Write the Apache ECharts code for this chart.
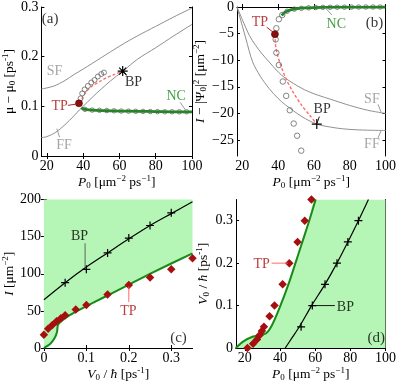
<!DOCTYPE html>
<html>
<head>
<meta charset="utf-8">
<script src="https://cdn.jsdelivr.net/npm/echarts@6/dist/echarts.min.js"></script>
<style>
html, body { margin: 0; padding: 0; background: #fff; }
#chart { width: 399px; height: 386px; }
</style>
</head>
<body>
<div id="chart"></div>
<script>
// ---- panel (a): mu - mu0 vs P0 ----
const aSF_P = [17, 20, 24, 27, 30, 35, 40, 50, 60, 65.6, 70, 80, 90, 100];
const aSF_y = [0.135, 0.137, 0.141, 0.146, 0.152, 0.164, 0.175, 0.198, 0.221, 0.233, 0.242, 0.261, 0.28, 0.298];
const aFF_P = [17, 20, 25, 30, 35, 38, 40, 45, 50, 55, 62, 70, 80, 90, 100];
const aFF_y = [0.037, 0.039, 0.048, 0.063, 0.081, 0.093, 0.1, 0.118, 0.135, 0.151, 0.171, 0.195, 0.218, 0.242, 0.265];
const aNC_P = [39, 40, 42, 45, 50, 55, 60, 70, 80, 90, 100];
const aNC_y = [0.097, 0.095, 0.0935, 0.0925, 0.0915, 0.091, 0.0905, 0.09, 0.0895, 0.089, 0.089];
const aNCc_P = [41, 45, 49, 53, 57, 61, 65, 69, 73, 77, 81, 85, 89, 93, 97];
const aNCc_y = [0.094, 0.0925, 0.092, 0.0915, 0.091, 0.0905, 0.0903, 0.09, 0.0898, 0.0895, 0.0893, 0.089, 0.089, 0.089, 0.089];
const aUp_P = [38.6, 39.5, 40.8, 42.6, 44.5, 46.3, 48.1, 50, 51.5];
const aUp_y = [0.116, 0.126, 0.134, 0.141, 0.148, 0.153, 0.16, 0.165, 0.168];
const aDash_P = [37.7, 39, 41.7, 45, 49.1, 52.5, 56.4, 61.8];
const aDash_y = [0.106, 0.113, 0.129, 0.141, 0.15, 0.157, 0.163, 0.171];
const aTP = [37.7, 0.106];
const aBP = [61.8, 0.171];

// ---- panel (b): I - |psi0|^2 vs P0 ----
const bSF_P = [17, 20, 24, 27.6, 31, 34.9, 40, 44.1, 53.3, 60, 71.7, 80, 90, 100];
const bSF_y = [0, -2.4, -5.4, -7.3, -8.8, -10.3, -12.2, -13.4, -15.3, -16.3, -17.6, -18.5, -19.4, -20];
const bFF_P = [17, 20, 22, 25.7, 30, 34.9, 40, 44.1, 53.3, 61.6, 71.7, 80, 90, 100];
const bFF_y = [0, -3.6, -6, -10.3, -13, -15.3, -17.2, -18.4, -20.6, -22, -22.7, -23, -23.15, -23.2];
const bNC_P = [42, 43, 44, 46, 48, 50, 55, 60, 70, 80, 100];
const bNC_y = [-1.6, -1.2, -0.95, -0.65, -0.45, -0.33, -0.18, -0.1, -0.04, -0.02, 0];
const bCirc_P = [42.3, 40.4, 39.0, 38.6, 39.0, 40.4, 42.6, 44.5, 46.5, 48.7, 50.6, 52.9];
const bCirc_y = [-1.5, -2.3, -4.0, -6.1, -8.6, -10.9, -14.0, -16.7, -19.4, -21.9, -24.2, -27.0];
const bNCc_P = [45, 49, 53, 57, 61, 65, 69, 73, 77, 81, 85, 89, 93, 97];
const bNCc_y = [-0.8, -0.4, -0.25, -0.15, -0.1, -0.07, -0.05, -0.04, -0.03, -0.02, -0.01, 0, 0, 0];
const bDash_P = [38.2, 38.5, 39.3, 41, 44, 48, 53, 57.5, 61.6];
const bDash_y = [-5.1, -7, -8.6, -10.5, -13.2, -15.8, -18.4, -20.3, -22];
const bTP = [38.2, -5.1];
const bBP = [61.6, -22];

// ---- panel (c): I vs V0/hbar ----
const cGreen_V = [0, 0.014, 0.025, 0.031, 0.033, 0.041, 0.06, 0.098, 0.137, 0.199, 0.252, 0.35];
const cGreen_I = [0, 5, 13, 22, 31, 36, 44, 55.7, 67, 85, 100.6, 127.5];
const cBP_V = [0, 0.05, 0.1, 0.15, 0.2, 0.25, 0.3, 0.35];
const cBP_I = [65, 88, 109, 128, 147, 165, 181, 197];
const cBPm_V = [0.05, 0.1, 0.15, 0.2, 0.25, 0.3];
const cBPm_I = [88, 106, 128, 148, 165, 182];
const cTP_V = [0, 0.01, 0.02, 0.03, 0.04, 0.05, 0.075, 0.1, 0.15, 0.2, 0.25, 0.3, 0.35];
const cTP_I = [18, 26, 31, 36, 40, 44, 52, 58, 72, 85, 95, 106, 121];

// ---- panel (d): V0/hbar vs P0 ----
const dGreen_P = [14.8, 19, 24.7, 29.4, 32.2, 35, 39.7, 45.3, 50.9, 56.5, 60.3];
const dGreen_V = [0, 0.015, 0.027, 0.031, 0.035, 0.05, 0.094, 0.156, 0.227, 0.298, 0.35];
const dBP_P = [43, 47, 51, 58, 65.6, 72.4, 78.6, 84.6, 90.3];
const dBP_V = [0, 0.025, 0.05, 0.1, 0.15, 0.2, 0.25, 0.3, 0.35];
const dBPm_P = [52, 58.4, 65.6, 72.4, 78.6, 84.6];
const dBPm_V = [0.05, 0.1, 0.15, 0.2, 0.25, 0.3];
const dTP_P = [21.5, 24.7, 26.9, 28.4, 29.7, 30.9, 34.1, 36.9, 41.5, 45.3, 50, 54.1, 57.9];
const dTP_V = [0, 0.01, 0.02, 0.03, 0.04, 0.05, 0.075, 0.1, 0.15, 0.2, 0.25, 0.3, 0.35];

// tick labels
const pTicks = [20, 40, 60, 80, 100];
const aYTicks = [0, 0.1, 0.2, 0.3];
const bYTicks = [-25, -20, -15, -10, -5, 0];
const cXTicks = [0, 0.1, 0.2, 0.3];
const cYTicks = [0, 50, 100, 150, 200];
const dYTicks = [0, 0.1, 0.2, 0.3];

const FONT = 'Liberation Serif';
const GRAY = '#8f8f8f';
const GREEN = '#178a17';
const DKRED = '#a50f0f';
const FILL = '#b5f5b5';

const zip = (xs, ys) => xs.map((x, i) => [x, ys[i]]);
const minus = v => (v < 0 ? '\u2212' + (-v) : String(v));

const rich = {
  i: { fontStyle: 'italic', fontSize: 13.5, fontFamily: FONT, lineHeight: 16 },
  n: { fontSize: 13.5, fontFamily: FONT, lineHeight: 16 },
  s: { fontSize: 9, fontFamily: FONT, verticalAlign: 'bottom', lineHeight: 16, padding: [4, 0, 0, 0] },
  u: { fontSize: 9, fontFamily: FONT, verticalAlign: 'top', lineHeight: 16, padding: [0, 0, 4, 0] }
};

function xPair(grid, min, max, ticks, name, fmt) {
  const base = {
    gridIndex: grid, type: 'value', min: min, max: max,
    axisLine: { lineStyle: { color: '#000', width: 1 } },
    splitLine: { show: false }
  };
  return [
    Object.assign({}, base, {
      position: 'bottom',
      axisTick: { inside: true, length: 3, customValues: ticks, lineStyle: { color: '#000' } },
      axisLabel: { customValues: ticks, formatter: fmt, color: '#000', fontFamily: FONT, fontSize: 14, margin: 3 },
      name: name, nameLocation: 'middle', nameGap: 18,
      nameTextStyle: { color: '#000', fontFamily: FONT, fontSize: 13.5, rich: rich }
    }),
    Object.assign({}, base, {
      position: 'top',
      axisTick: { inside: true, length: 3, customValues: ticks, lineStyle: { color: '#000' } },
      axisLabel: { show: false }
    })
  ];
}

function yPair(grid, min, max, ticks, name, gap, fmt) {
  const base = {
    gridIndex: grid, type: 'value', min: min, max: max,
    axisLine: { lineStyle: { color: '#000', width: 1 } },
    splitLine: { show: false }
  };
  return [
    Object.assign({}, base, {
      position: 'left',
      axisTick: { inside: true, length: 3, customValues: ticks, lineStyle: { color: '#000' } },
      axisLabel: { customValues: ticks, formatter: fmt, color: '#000', fontFamily: FONT, fontSize: 14, margin: 3 },
      name: name, nameLocation: 'middle', nameGap: gap, nameRotate: 90,
      nameTextStyle: { color: '#000', fontFamily: FONT, fontSize: 13.5, rich: rich }
    }),
    Object.assign({}, base, {
      position: 'right',
      axisTick: { inside: true, length: 3, customValues: ticks, lineStyle: { color: '#000' } },
      axisLabel: { show: false }
    })
  ];
}

function line(k, data, color, width, extra) {
  return Object.assign({
    type: 'line', xAxisIndex: 2 * k, yAxisIndex: 2 * k, data: data,
    showSymbol: false, symbol: 'none', smooth: 0.3, silent: true,
    lineStyle: { color: color, width: width }
  }, extra || {});
}

function dots(k, data, symbol, size, style, z) {
  return {
    type: 'scatter', xAxisIndex: 2 * k, yAxisIndex: 2 * k, data: data,
    symbol: symbol, symbolSize: size, itemStyle: Object.assign({ opacity: 1 }, style), z: z || 5, silent: true
  };
}

function text(k, pos, str, color, size) {
  return {
    type: 'scatter', xAxisIndex: 2 * k, yAxisIndex: 2 * k, data: [pos],
    symbolSize: 1, itemStyle: { color: 'rgba(0,0,0,0)' }, z: 10, silent: true,
    label: { show: true, position: 'inside', formatter: str, color: color, fontFamily: FONT, fontSize: size || 14 }
  };
}

function leader(k, p1, p2, color) {
  return {
    type: 'line', xAxisIndex: 2 * k, yAxisIndex: 2 * k, data: [p1, p2],
    symbol: 'none', silent: true, z: 9, lineStyle: { color: color, width: 0.9 }
  };
}

const STAR = 'path://M0,-6L0,6M-6,0L6,0M-4.2,-4.2L4.2,4.2M-4.2,4.2L4.2,-4.2';
const PLUS = 'path://M0,-6L0,6M-6,0L6,0';
const hollow = { color: 'rgba(0,0,0,0)', borderColor: '#666', borderWidth: 0.8 };
const stroke = c => ({ color: 'rgba(0,0,0,0)', borderColor: c, borderWidth: 1.2 });

const pName = '{i|P}{s|0}{n| [μm}{u|−2}{n| ps}{u|−1}{n|]}';
const vName = '{i|V}{s|0}{n| / }{i|ħ}{n| [ps}{u|-1}{n|]}';

const option = {
  animation: false,
  backgroundColor: '#fff',
  grid: [
    { left: 41, top: 7, width: 151, height: 149, show: false },
    { left: 237, top: 7, width: 150.5, height: 149, show: false },
    { left: 41, top: 199.5, width: 151.5, height: 148.5, show: false },
    { left: 236, top: 199.5, width: 151.5, height: 148.5, show: false }
  ],
  xAxis: [].concat(
    xPair(0, 17, 100, pTicks, pName),
    xPair(1, 17, 100, pTicks, pName),
    xPair(2, 0, 0.35, cXTicks, vName),
    xPair(3, 15, 100, pTicks, pName)
  ),
  yAxis: [].concat(
    yPair(0, 0, 0.3, aYTicks, '{n|μ − μ}{s|0}{n| [ps}{u|-1}{n|]}', 24),
    yPair(1, -28, 0, bYTicks, '{i|I}{n| − |Ψ}{s|0}{n||}{u|2}{n| [μm}{u|−2}{n|]}', 25, minus),
    yPair(2, 0, 200, cYTicks, '{i|I}{n| [μm}{u|−2}{n|]}', 26),
    yPair(3, 0, 0.35, dYTicks, vName, 24)
  ),
  series: [
    // (a)
    line(0, zip(aSF_P, aSF_y), GRAY, 1),
    line(0, zip(aFF_P, aFF_y), GRAY, 1),
    line(0, zip(aDash_P, aDash_y), '#ff6b6b', 1.4, { lineStyle: { color: '#ff6b6b', width: 1.4, type: [3, 2] } }),
    line(0, zip(aNC_P, aNC_y), GREEN, 2.8),
    dots(0, zip(aNCc_P, aNCc_y), 'circle', 4.5, hollow),
    dots(0, zip(aUp_P, aUp_y), 'circle', 5, hollow),
    dots(0, [aTP], 'circle', 7, { color: '#8a0f0f', borderColor: '#5a0000', borderWidth: 0.6 }, 8),
    dots(0, [aBP], STAR, 10, stroke('#000'), 8),
    text(0, [21.8, 0.276], '(a)', '#000', 15),
    text(0, [24.2, 0.171], 'SF', GRAY, 14),
    text(0, [29.5, 0.021], 'FF', GRAY, 14),
    leader(0, [25.5, 0.055], [27, 0.038], GRAY),
    text(0, [27, 0.1], 'TP', DKRED, 14),
    leader(0, [31.6, 0.102], [37.2, 0.105], DKRED),
    text(0, [67.8, 0.149], 'BP', '#000', 14),
    leader(0, [62, 0.17], [64.2, 0.162], '#000'),
    text(0, [91.3, 0.12], 'NC', GREEN, 14),
    leader(0, [93.5, 0.108], [96.5, 0.092], GRAY),

    // (b)
    line(1, zip(bSF_P, bSF_y), GRAY, 1),
    line(1, zip(bFF_P, bFF_y), GRAY, 1),
    line(1, zip(bDash_P, bDash_y), '#ff6b6b', 1.4, { lineStyle: { color: '#ff6b6b', width: 1.4, type: [3, 2] } }),
    line(1, zip(bNC_P, bNC_y), GREEN, 2.8),
    dots(1, zip(bNCc_P, bNCc_y), 'circle', 4.5, hollow),
    dots(1, zip(bCirc_P, bCirc_y), 'circle', 5.5, hollow),
    dots(1, [bTP], 'circle', 7, { color: '#8a0f0f', borderColor: '#5a0000', borderWidth: 0.6 }, 8),
    dots(1, [bBP], PLUS, 10, stroke('#000'), 8),
    text(1, [93.8, -3.0], '(b)', '#000', 15),
    text(1, [29.8, -2.8], 'TP', DKRED, 14),
    leader(1, [33.6, -3.8], [37.8, -4.9], DKRED),
    text(1, [72.5, -3.2], 'NC', GREEN, 14),
    leader(1, [70, -1.5], [66.2, -0.1], GRAY),
    text(1, [92.4, -17.3], 'SF', GRAY, 14),
    leader(1, [95.8, -18.3], [97.5, -19.7], GRAY),
    text(1, [92.4, -25.9], 'FF', GRAY, 14),
    leader(1, [95.8, -24.6], [97.5, -23.3], GRAY),
    text(1, [64.6, -19.3], 'BP', '#000', 14),
    leader(1, [61.8, -21.8], [63, -20.6], '#000'),

    // (c)
    line(2, zip(cGreen_V, cGreen_I), GREEN, 2, { areaStyle: { color: FILL, opacity: 1, origin: 'end' }, z: 1, smooth: 0.2 }),
    line(2, zip(cBP_V, cBP_I), '#000', 1.2),
    dots(2, zip(cBPm_V, cBPm_I), PLUS, 8, stroke('#000'), 6),
    dots(2, zip(cTP_V, cTP_I), 'diamond', 8.5, { color: DKRED }, 6),
    text(2, [0.084, 150], 'BP', '#000', 14),
    leader(2, [0.097, 141], [0.097, 108], '#555'),
    text(2, [0.199, 50], 'TP', DKRED, 14),
    leader(2, [0.2, 62], [0.2, 83], '#ff5a5a'),
    text(2, [0.317, 13.5], '(c)', '#000', 15),

    // (d)
    line(3, zip(dGreen_P, dGreen_V).concat([[100, 0.35]]), 'rgba(0,0,0,0)', 0,
      { areaStyle: { color: FILL, opacity: 1, origin: 'start' }, z: 1, smooth: 0.2 }),
    line(3, zip(dGreen_P, dGreen_V), GREEN, 2, { smooth: 0.2 }),
    line(3, zip(dBP_P, dBP_V), '#000', 1.2),
    dots(3, zip(dBPm_P, dBPm_V), PLUS, 8, stroke('#000'), 6),
    dots(3, zip(dTP_P, dTP_V), 'diamond', 8.5, { color: DKRED }, 6),
    text(3, [29.6, 0.198], 'TP', DKRED, 14),
    leader(3, [35.2, 0.2], [44.6, 0.2], '#ff5a5a'),
    text(3, [77.2, 0.097], 'BP', '#000', 14),
    leader(3, [59.2, 0.1], [71.2, 0.1], '#000'),
    text(3, [94.8, 0.024], '(d)', '#000', 15)
  ]
};

const chart = echarts.init(document.getElementById('chart'), null, { renderer: 'canvas' });
chart.setOption(option);
</script>
</body>
</html>
